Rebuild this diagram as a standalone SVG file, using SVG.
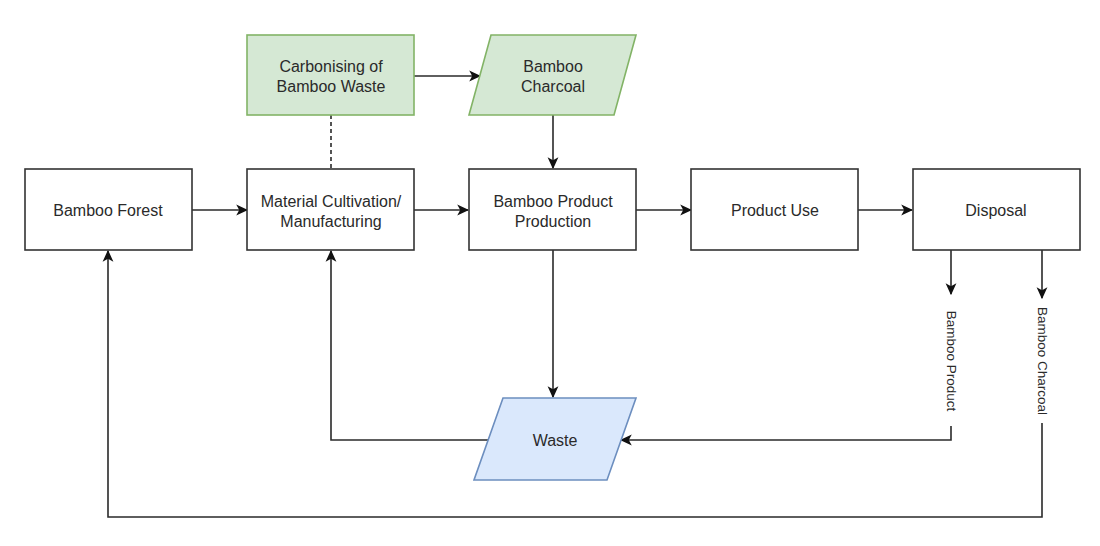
<svg xmlns="http://www.w3.org/2000/svg" width="1100" height="546" viewBox="0 0 1100 546">
<defs>
<marker id="arr" viewBox="0 0 10 10" refX="9" refY="5" markerWidth="12" markerHeight="12" markerUnits="userSpaceOnUse" orient="auto">
<path d="M0,0.5 L10,5 L0,9.5 L2.5,5 Z" fill="#111"/>
</marker>
<style>
.box{fill:#fff;stroke:#333;stroke-width:1.6}
.green{fill:#d5e8d4;stroke:#82b366;stroke-width:1.6}
.blue{fill:#dae8fc;stroke:#6c8ebf;stroke-width:1.6}
.t{font-family:"Liberation Sans",Arial,sans-serif;font-size:16px;fill:#2a2a2a;text-anchor:middle;dominant-baseline:central}
.s{font-family:"Liberation Sans",Arial,sans-serif;font-size:13.5px;fill:#2a2a2a;text-anchor:middle;dominant-baseline:central}
.c{fill:none;stroke:#2a2a2a;stroke-width:1.6}
</style>
</defs>
<rect width="1100" height="546" fill="#fff"/>
<g id="connectors">
<path class="c" d="M414,76 L480,76" marker-end="url(#arr)"/>
<path class="c" d="M553,115 L553,168" marker-end="url(#arr)"/>
<path class="c" d="M331,115 L331,169" stroke-dasharray="4,3"/>
<path class="c" d="M192,210 L247,210" marker-end="url(#arr)"/>
<path class="c" d="M414,210 L468,210" marker-end="url(#arr)"/>
<path class="c" d="M636,210 L691,210" marker-end="url(#arr)"/>
<path class="c" d="M858,210 L912,210" marker-end="url(#arr)"/>
<path class="c" d="M553,250 L553,397" marker-end="url(#arr)"/>
<path class="c" d="M488,440 L331,440 L331,251" marker-end="url(#arr)"/>
<path class="c" d="M951,250 L951,294" marker-end="url(#arr)"/>
<path class="c" d="M951,426 L951,440 L621,440" marker-end="url(#arr)"/>
<path class="c" d="M1042,250 L1042,298" marker-end="url(#arr)"/>
<path class="c" d="M1042,423 L1042,517 L108,517 L108,251" marker-end="url(#arr)"/>
<text class="s" transform="translate(951,361) rotate(90)">Bamboo Product</text>
<text class="s" transform="translate(1042,361) rotate(90)">Bamboo Charcoal</text>
</g>
<g id="carbonising">
<rect class="green" x="247" y="35" width="167" height="80"/>
<text class="t" x="331" y="66">Carbonising of</text>
<text class="t" x="331" y="86">Bamboo Waste</text>
</g>
<g id="charcoal">
<polygon class="green" points="491,35 636,35 614,115 469,115"/>
<text class="t" x="553" y="66">Bamboo</text>
<text class="t" x="553" y="86">Charcoal</text>
</g>
<g id="forest">
<rect class="box" x="25" y="169" width="167" height="81"/>
<text class="t" x="108" y="210">Bamboo Forest</text>
</g>
<g id="material">
<rect class="box" x="247" y="169" width="167" height="81"/>
<text class="t" x="331" y="201">Material Cultivation/</text>
<text class="t" x="331" y="221">Manufacturing</text>
</g>
<g id="production">
<rect class="box" x="469" y="169" width="167" height="81"/>
<text class="t" x="553" y="201">Bamboo Product</text>
<text class="t" x="553" y="221">Production</text>
</g>
<g id="use">
<rect class="box" x="691" y="169" width="167" height="81"/>
<text class="t" x="775" y="210">Product Use</text>
</g>
<g id="disposal">
<rect class="box" x="913" y="169" width="167" height="81"/>
<text class="t" x="996" y="210">Disposal</text>
</g>
<g id="waste">
<polygon class="blue" points="503,398 636,398 607,480 474,480"/>
<text class="t" x="555" y="440">Waste</text>
</g>
</svg>
